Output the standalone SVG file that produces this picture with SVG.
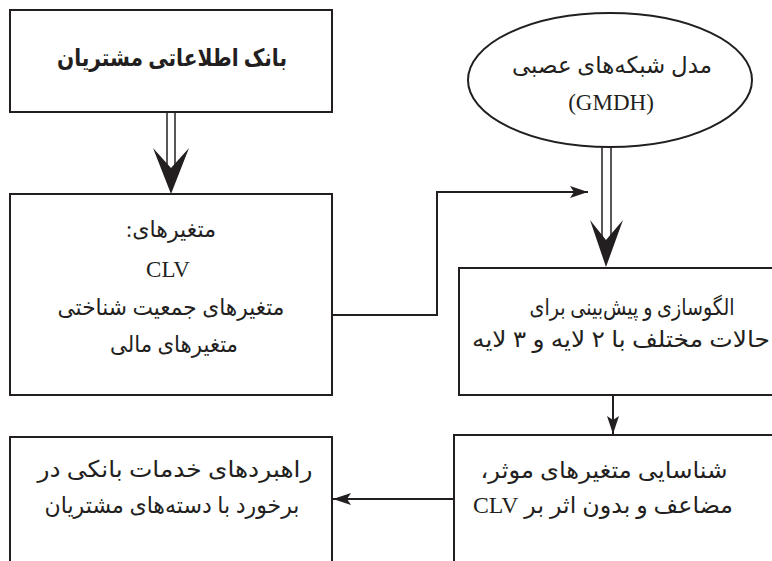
<svg xmlns="http://www.w3.org/2000/svg" width="772" height="561" viewBox="0 0 772 561">
<defs>
<style>
.box{fill:#fff;stroke:#231f20;stroke-width:2}
.ln{fill:none;stroke:#231f20;stroke-width:2}
.dl{fill:none;stroke:#231f20;stroke-width:1.5}
.hd{fill:#231f20;stroke:none}
text{font-family:"Liberation Serif","DejaVu Sans",serif;font-size:23px;fill:#231f20;text-anchor:middle}
.fa{direction:rtl}
.b{font-weight:bold;font-size:24px}
</style>
<marker id="ah" viewBox="0 0 18 12" refX="18" refY="6" markerWidth="18" markerHeight="12" markerUnits="userSpaceOnUse" orient="auto">
<path d="M0,0 L18,6 L0,12 L4,6 Z" fill="#231f20"/>
</marker>
</defs>
<g id="connectors">
<line class="dl" x1="167" y1="112" x2="167" y2="165"/>
<line class="dl" x1="175" y1="112" x2="175" y2="165"/>
<path class="hd" d="M153,148 L171,168 L189,148 L171,194 Z"/>
<line class="dl" x1="602" y1="147" x2="602" y2="237"/>
<line class="dl" x1="611" y1="147" x2="611" y2="237"/>
<path class="hd" d="M590,220 L606,240 L623,220 L606,267 Z"/>
<polyline class="ln" points="333,315 437,315 437,192 588,192" stroke-width="2.5" marker-end="url(#ah)"/>
<line class="ln" x1="613" y1="395" x2="613" y2="434" marker-end="url(#ah)"/>
<line class="ln" x1="454" y1="499" x2="333" y2="499" marker-end="url(#ah)"/>
</g>
<g id="bank">
<rect class="box" x="10" y="10" width="322" height="102"/>
<text class="fa b" x="172" y="66" textLength="230" lengthAdjust="spacingAndGlyphs">بانک اطلاعاتی مشتریان</text>
</g>
<g id="variables">
<rect class="box" x="10" y="194" width="322" height="201"/>
<text class="fa" x="171" y="237" textLength="90" lengthAdjust="spacingAndGlyphs">متغیرهای:</text>
<text x="168" y="277">CLV</text>
<text class="fa" x="171" y="315" textLength="227" lengthAdjust="spacingAndGlyphs">متغیرهای جمعیت شناختی</text>
<text class="fa" x="174" y="352" textLength="128" lengthAdjust="spacingAndGlyphs">متغیرهای مالی</text>
</g>
<g id="gmdh">
<ellipse class="box" cx="610" cy="80" rx="142" ry="67"/>
<text class="fa" x="612" y="73" textLength="200" lengthAdjust="spacingAndGlyphs">مدل شبکه‌های عصبی</text>
<text x="611" y="110">(GMDH)</text>
</g>
<g id="modeling">
<rect class="box" x="459" y="268" width="330" height="127"/>
<text class="fa" x="632" y="315" textLength="205" lengthAdjust="spacingAndGlyphs">الگوسازی و پیش‌بینی برای</text>
<text class="fa" x="621" y="347" textLength="298" lengthAdjust="spacingAndGlyphs">حالات مختلف با ۲ لایه و ۳ لایه</text>
</g>
<g id="identify">
<rect class="box" x="454" y="435" width="340" height="140"/>
<text class="fa" x="604" y="478" textLength="247" lengthAdjust="spacingAndGlyphs">شناسایی متغیرهای موثر،</text>
<text class="fa" x="603" y="513" textLength="260" lengthAdjust="spacingAndGlyphs">مضاعف و بدون اثر بر CLV</text>
</g>
<g id="strategy">
<rect class="box" x="10" y="437" width="322" height="140"/>
<text class="fa" x="175" y="477" textLength="275" lengthAdjust="spacingAndGlyphs">راهبردهای خدمات بانکی در</text>
<text class="fa" x="172" y="513" textLength="255" lengthAdjust="spacingAndGlyphs">برخورد با دسته‌های مشتریان</text>
</g>
</svg>
